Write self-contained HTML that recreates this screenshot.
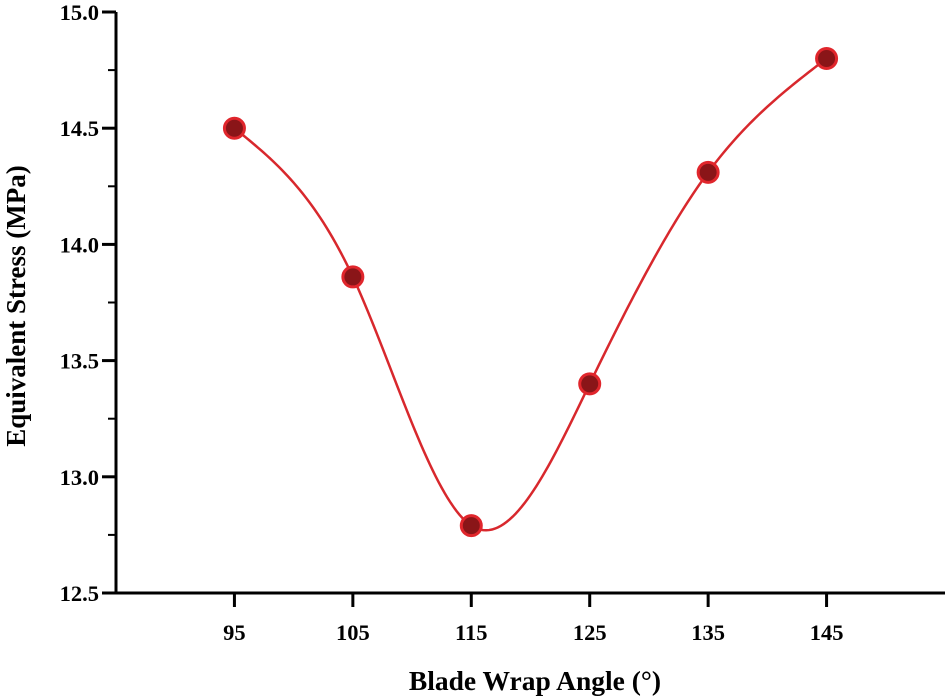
<!DOCTYPE html>
<html><head><meta charset="utf-8"><style>
html,body{margin:0;padding:0;background:#fff;}
svg{display:block;font-family:"Liberation Serif",serif;font-weight:bold;}
</style></head><body>
<svg id="chart" width="951" height="697" viewBox="0 0 951 697">
<g id="axes"></g>
<path id="curve" fill="none" stroke="#d8282d" stroke-width="2.5"></path>
<g id="points"></g>
<text x="535" y="690" text-anchor="middle" font-size="27.5">Blade Wrap Angle (°)</text>
<text transform="translate(25,306) rotate(-90)" text-anchor="middle" font-size="27">Equivalent Stress (MPa)</text>
</svg>
<script>
const categories=[95,105,115,125,135,145];
const stressValues=[14.5,13.86,12.79,13.40,14.31,14.80];
const yTickLabels=["12.5","13.0","13.5","14.0","14.5","15.0"];
const xTickLabels=["95","105","115","125","135","145"];
const NS="http://www.w3.org/2000/svg";
const X0=116,X1=945,Y0=593,Y1=12;
const xs=v=>X0+(v-85)*(X1-X0)/70;
const ys=v=>Y0-(v-12.5)*(Y0-Y1)/2.5;
function mk(tag,attrs,parent){const e=document.createElementNS(NS,tag);for(const k in attrs)e.setAttribute(k,attrs[k]);parent.appendChild(e);return e;}
const ax=document.getElementById('axes');
let l=mk('line',{x1:X0,y1:Y1,x2:X0,y2:Y0+1.5,stroke:'#000','stroke-width':3},ax);


l=mk('line',{x1:X0-1.5,y1:Y0,x2:X1,y2:Y0,stroke:'#000','stroke-width':3},ax);


yTickLabels.forEach((t,i)=>{const v=parseFloat(t);const y=ys(v);
 const tk=mk('line',{x1:X0-14,y1:y,x2:X0,y2:y,stroke:'#000','stroke-width':3},ax);
 
 
 if(i<yTickLabels.length-1){const m=mk('line',{x1:X0-8,y1:ys(v+0.25),x2:X0,y2:ys(v+0.25),stroke:'#000','stroke-width':2},ax);
 
 }
 const tx=mk('text',{x:X0-17,y:y+8,'text-anchor':'end','font-size':22.5},ax);tx.textContent=t;
 
 
});
xTickLabels.forEach(t=>{const x=xs(parseFloat(t));
 const tk=mk('line',{x1:x,y1:Y0,x2:x,y2:Y0+14,stroke:'#000','stroke-width':3},ax);
 
 
 const tx=mk('text',{x:x,y:640,'text-anchor':'middle','font-size':22.5},ax);tx.textContent=t;
 
 
});
const n=categories.length,h=[],al=[0],lo=[1],mu=[0],z=[0],c=new Array(n).fill(0),b=[],d=[];
for(let i=0;i<n-1;i++)h.push(categories[i+1]-categories[i]);
for(let i=1;i<n-1;i++)al[i]=3/h[i]*(stressValues[i+1]-stressValues[i])-3/h[i-1]*(stressValues[i]-stressValues[i-1]);
for(let i=1;i<n-1;i++){lo[i]=2*(categories[i+1]-categories[i-1])-h[i-1]*mu[i-1];mu[i]=h[i]/lo[i];z[i]=(al[i]-h[i-1]*z[i-1])/lo[i];}
z[n-1]=0;c[n-1]=0;
for(let j=n-2;j>=0;j--){c[j]=z[j]-mu[j]*c[j+1];b[j]=(stressValues[j+1]-stressValues[j])/h[j]-h[j]*(c[j+1]+2*c[j])/3;d[j]=(c[j+1]-c[j])/(3*h[j]);}
let p='';
for(let j=0;j<n-1;j++)for(let k=0;k<=40;k++){const t=h[j]*k/40;const v=stressValues[j]+b[j]*t+c[j]*t*t+d[j]*t*t*t;p+=(p?'L':'M')+xs(categories[j]+t).toFixed(2)+','+ys(v).toFixed(2);}
document.getElementById('curve').setAttribute('d',p);
const pg=document.getElementById('points');
categories.forEach((cx,i)=>{const ci=mk('circle',{cx:xs(cx),cy:ys(stressValues[i]),r:10,fill:'#8a1518',stroke:'#e0262c','stroke-width':3},pg);
 
 
});
</script>
</body></html>
